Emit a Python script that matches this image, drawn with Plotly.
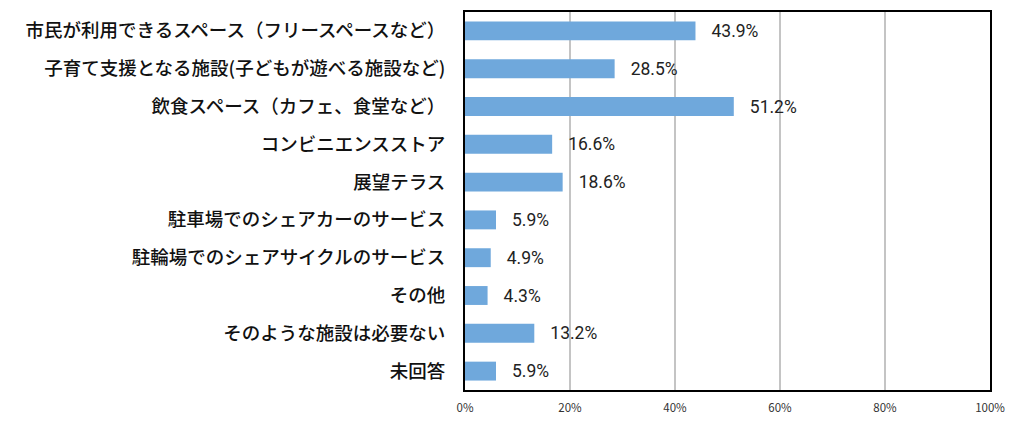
import plotly.graph_objects as go

categories = [
    "市民が利用できるスペース（フリースペースなど）",
    "子育て支援となる施設(子どもが遊べる施設など)",
    "飲食スペース（カフェ、食堂など）",
    "コンビニエンスストア",
    "展望テラス",
    "駐車場でのシェアカーのサービス",
    "駐輪場でのシェアサイクルのサービス",
    "その他",
    "そのような施設は必要ない",
    "未回答",
]
values = [43.9, 28.5, 51.2, 16.6, 18.6, 5.9, 4.9, 4.3, 13.2, 5.9]
tick_vals = [0, 20, 40, 60, 80, 100]
tick_text = ["0%", "20%", "40%", "60%", "80%", "100%"]

fig = go.Figure()
fig.add_trace(go.Bar(
    x=values, y=categories, orientation="h",
    marker=dict(color="#6fa8dc", line=dict(width=0)),
    text=["   {:.1f}%".format(v) for v in values],
    textposition="outside", cliponaxis=False, constraintext="none",
    textfont=dict(family="Roboto", size=17.5, color="#222"),
))

# page body adds 8px offset, margins compensate for it
fig.update_layout(
    width=1024, height=424,
    margin=dict(l=457, r=42, t=4, b=42, autoexpand=False),
    plot_bgcolor="white", paper_bgcolor="white",
    bargap=0.5, showlegend=False,
    font=dict(family="Noto Sans CJK JP", color="#222"),
)
fig.update_xaxes(
    range=[0, 100], tickvals=tick_vals, ticktext=tick_text,
    showgrid=True, gridcolor="#c4c4c4", gridwidth=2,
    showline=True, linecolor="black", linewidth=2, mirror=True,
    tickfont=dict(size=11.5, color="#333"), zeroline=False, automargin=False,
    ticklabelstandoff=6,
)
fig.update_yaxes(
    autorange="reversed", showline=True, linecolor="black", linewidth=2, mirror=True,
    tickfont=dict(size=18.5, color="#111", weight=500), ticklabelstandoff=14,
    automargin=False,
)

fig.write_html("out.html")
